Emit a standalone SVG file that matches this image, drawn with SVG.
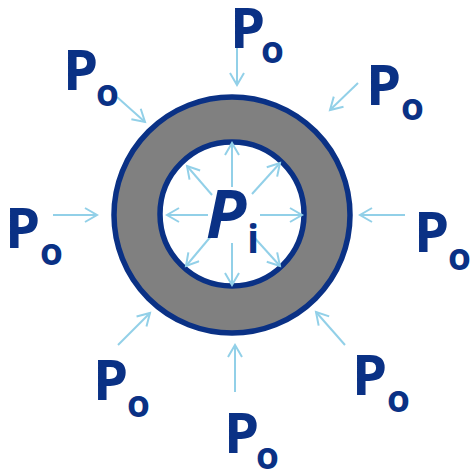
<svg xmlns="http://www.w3.org/2000/svg" width="471" height="472" viewBox="0 0 471 472">
<defs>
<marker id="ah" markerUnits="userSpaceOnUse" markerWidth="16" markerHeight="16" refX="13" refY="8" orient="auto" viewBox="0 0 16 16">
<path d="M1,1 L13,8 L1,15" fill="none" stroke="#92d0e8" stroke-width="2"/>
</marker>
</defs>
<style>
.a{stroke:#92d0e8;stroke-width:2;fill:none;marker-end:url(#ah)}
.P{font-family:"Open Sans",sans-serif;font-weight:bold;font-size:56px;fill:#0a3185}
.o{font-family:"Open Sans",sans-serif;font-weight:bold;font-size:37px;fill:#0a3185}
</style>
<g id="ring">
<circle cx="232" cy="215" r="118" fill="#808080" stroke="#0a3185" stroke-width="5.5"/>
<circle cx="232" cy="214" r="72" fill="#ffffff" stroke="#0a3185" stroke-width="5.5"/>
</g>
<g id="connectors">
<line class="a" x1="232" y1="187" x2="232" y2="143"/>
<line class="a" x1="232" y1="243" x2="232" y2="285"/>
<line class="a" x1="208" y1="215" x2="167" y2="215"/>
<line class="a" x1="260" y1="215" x2="302" y2="215"/>
<line class="a" x1="252" y1="194" x2="280" y2="163"/>
<line class="a" x1="212" y1="195" x2="187" y2="166"/>
<line class="a" x1="212" y1="235" x2="186" y2="266"/>
<line class="a" x1="252" y1="235" x2="280" y2="266"/>
<line class="a" x1="237" y1="47" x2="237" y2="85"/>
<line class="a" x1="117" y1="97" x2="145" y2="122"/>
<line class="a" x1="358" y1="83" x2="330" y2="110"/>
<line class="a" x1="53" y1="215" x2="97" y2="215"/>
<line class="a" x1="405" y1="215" x2="360" y2="215"/>
<line class="a" x1="118" y1="345" x2="150" y2="313"/>
<line class="a" x1="235" y1="392" x2="235" y2="345"/>
<line class="a" x1="345" y1="345" x2="316" y2="312"/>
</g>
<g id="Pi">
<text x="206" y="238" font-family="Open Sans,sans-serif" font-weight="bold" font-style="italic" font-size="66" fill="#0a3185">P</text>
<text x="247" y="253" font-family="Open Sans,sans-serif" font-weight="bold" font-size="40" fill="#0a3185">i</text>
</g>
<g id="Po-top"><text class="P" x="230" y="48">P</text><text class="o" x="261" y="63">o</text></g>
<g id="Po-ul"><text class="P" x="63" y="90">P</text><text class="o" x="96" y="106">o</text></g>
<g id="Po-ur"><text class="P" x="366" y="105">P</text><text class="o" x="401" y="120">o</text></g>
<g id="Po-l"><text class="P" x="5" y="248">P</text><text class="o" x="40" y="265">o</text></g>
<g id="Po-r"><text class="P" x="414" y="252">P</text><text class="o" x="448" y="270">o</text></g>
<g id="Po-ll"><text class="P" x="93" y="400">P</text><text class="o" x="127" y="417">o</text></g>
<g id="Po-b"><text class="P" x="224" y="453">P</text><text class="o" x="256" y="469">o</text></g>
<g id="Po-lr"><text class="P" x="352" y="395">P</text><text class="o" x="387" y="412">o</text></g>
</svg>
